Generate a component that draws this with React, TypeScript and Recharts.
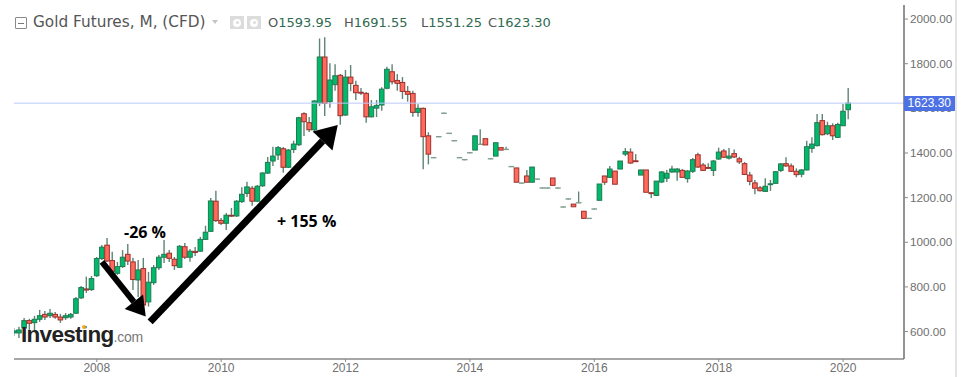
import React from "react";
import { ComposedChart, Bar, XAxis, YAxis, ReferenceLine } from "recharts";

// Months counted from Sep 2006 (index 0)
const opens = [594,594,616,649,640,655,677,671,677,665,662,665,682,751,791,788,850,927,987,918,861,891,946,912,831,882,733,819,886,933,951,924,888,980,933,959,960,1013,1049,1184,1098,1085,1121,1118,1182,1219,1242,1184,1253,1310,1364,1391,1419,1336,1416,1437,1576,1536,1504,1624,1830,1630,1706,1748,1570,1740,1703,1672,1667,1562,1601,1615,1690,1764,1725,1716,1676,1667,1582,1600,1477,1379,1473,1578,1488,1455,1379,1370,1401,1413,1439,1464,1374,1386,1424,1416,1339,1333,1265,1297,1269,1283,1243,1243,1288,1243,1158,1194,1171,1177,1139,1107,1149,1188,1297,1291,1319,1328,1395,1404,1365,1301,1324,1222,1210,1270,1287,1315,1315,1322,1285,1318,1392,1346,1335,1322,1373,1409,1377,1397,1374,1352,1301,1266,1244,1228,1258,1264,1322,1352,1342,1318,1305,1324,1421,1433,1545,1486,1522,1470,1522,1593.95];
const highs = [616,621,661,657,670,697,692,701,688,679,683,683,755,804,846,849,934,988,1019,957,912,965,992,931,921,930,867,898,943,1010,965,934,988,997,970,979,1024,1074,1198,1231,1109,1131,1154,1189,1246,1271,1252,1257,1315,1382,1428,1431,1427,1418,1455,1562,1583,1561,1637,1913,1918,1802,1798,1754,1772,1794,1724,1691,1673,1637,1637,1695,1786,1798,1754,1740,1700,1679,1618,1604,1493,1381,1475,1580,1490,1457,1381,1372,1403,1477,1506,1464,1376,1446,1424,1428,1341,1333,1267,1324,1337,1285,1245,1245,1288,1245,1160,1196,1171,1227,1139,1109,1151,1261,1297,1342,1319,1364,1422,1421,1395,1324,1324,1223,1274,1319,1324,1343,1333,1328,1324,1377,1401,1355,1354,1369,1424,1418,1422,1416,1383,1360,1316,1279,1252,1287,1279,1319,1355,1381,1353,1331,1328,1455,1470,1575,1575,1540,1533,1536,1619,1691.55];
const lows = [580,571,585,607,607,643,652,661,657,639,652,657,679,746,773,782,845,921,912,867,854,885,898,786,755,715,712,809,876,907,912,876,885,925,913,939,957,1010,1046,1091,1077,1055,1113,1113,1176,1203,1164,1180,1248,1306,1342,1369,1312,1333,1400,1431,1476,1494,1489,1610,1566,1603,1679,1527,1566,1677,1637,1660,1536,1559,1561,1589,1686,1707,1679,1642,1630,1562,1562,1327,1349,1377,1471,1576,1486,1453,1377,1368,1399,1413,1437,1436,1372,1386,1413,1414,1337,1269,1263,1269,1269,1281,1241,1241,1255,1241,1156,1192,1159,1175,1107,1105,1147,1188,1257,1288,1260,1328,1386,1351,1361,1301,1224,1198,1207,1265,1270,1310,1276,1288,1267,1310,1333,1319,1328,1297,1369,1377,1371,1377,1351,1301,1255,1215,1227,1225,1230,1261,1315,1337,1315,1291,1291,1322,1401,1429,1478,1480,1458,1467,1521,1551.25];
const closes = [603,607,649,637,655,671,665,682,665,652,671,677,747,797,786,837,927,978,916,870,891,933,916,833,876,719,821,886,933,946,928,895,982,933,960,954,1013,1045,1185,1097,1085,1121,1117,1184,1215,1248,1184,1251,1310,1358,1386,1424,1336,1413,1440,1558,1540,1504,1633,1830,1622,1727,1746,1567,1740,1712,1670,1668,1562,1607,1613,1686,1775,1719,1712,1676,1663,1582,1600,1473,1395,1379,1473,1578,1488,1455,1379,1370,1401,1477,1439,1436,1374,1446,1413,1416,1339,1269,1265,1269,1337,1283,1243,1243,1255,1243,1158,1194,1159,1177,1107,1107,1149,1261,1269,1328,1260,1364,1406,1355,1361,1324,1224,1218,1274,1315,1309,1328,1328,1291,1319,1370,1337,1322,1331,1364,1404,1381,1386,1382,1360,1304,1273,1242,1231,1251,1262,1316,1351,1342,1318,1303,1324,1428,1440,1536,1482,1522,1477,1528,1587,1623.30];

const yTicks = [600, 800, 1000, 1200, 1400, 1600, 1800, 2000];
const xTicks = [16, 40, 64, 88, 112, 136, 160];
const xTickLabels = ["2008", "2010", "2012", "2014", "2016", "2018", "2020"];
const lastPrice = 1623.3;
const priceDomain: [number, number] = [477, 2063];
const monthDomain: [number, number] = [0.03, 171.75];

const downArrow = { from: { m: 17, p: 912 }, to: { m: 25.45, p: 667 } };
const upArrow = { from: { m: 26.3, p: 643 }, to: { m: 62.5, p: 1525 } };

const rows = opens.map((o, i) => ({
  m: i,
  open: o,
  high: highs[i],
  low: lows[i],
  close: closes[i],
  range: [lows[i], highs[i]],
}));

function Candle(props: any) {
  const { x, y, width, height, payload } = props;
  const { open, high, low, close } = payload;
  const cx = x + width / 2;
  const unit = high > low ? height / (high - low) : 0;
  const yOpen = y + (high - open) * unit;
  const yClose = y + (high - close) * unit;
  const top = Math.min(yOpen, yClose);
  const bot = Math.max(yOpen, yClose);
  if (open === close) {
    return (
      <g>
        <line x1={cx} x2={cx} y1={y} y2={y + height} stroke="#4f7a64" strokeWidth={1.2} />
        <rect x={cx - 2.8} y={top - 0.7} width={5.6} height={1.4} fill="#7f9e8f" />
      </g>
    );
  }
  const up = close > open;
  const fill = up ? "#00b96b" : "#ff6a5c";
  const border = up ? "#1f7a52" : "#9c302c";
  return (
    <g>
      <line x1={cx} x2={cx} y1={y} y2={y + height} stroke="#5f8474" strokeWidth={1.4} />
      <rect
        x={cx - 2.3}
        y={top}
        width={4.6}
        height={Math.max(bot - top, 0.6)}
        fill={fill}
        stroke={border}
        strokeWidth={1}
      />
    </g>
  );
}

function Arrow(props: any) {
  const { x1, y1, x2, y2, thick, head } = props;
  const dx = x2 - x1;
  const dy = y2 - y1;
  const len = Math.hypot(dx, dy) || 1;
  const ux = dx / len;
  const uy = dy / len;
  const bx = x2 - ux * head;
  const by = y2 - uy * head;
  const hw = head * 0.62;
  return (
    <g>
      <line x1={x1} y1={y1} x2={bx} y2={by} stroke="#000" strokeWidth={thick} />
      <polygon
        points={`${x2},${y2} ${bx - uy * hw},${by + ux * hw} ${bx + uy * hw},${by - ux * hw}`}
        fill="#000"
      />
    </g>
  );
}

const abs = (left: number, top: number, extra: React.CSSProperties = {}): React.CSSProperties => ({
  position: "absolute",
  left,
  top,
  whiteSpace: "nowrap",
  ...extra,
});

const hdr = { fontFamily: "DejaVu Sans", fontSize: 13, lineHeight: "16px" };

function IconBox({ left }: { left: number }) {
  return (
    <div style={abs(left, 16, { width: 14, height: 13, background: "#dcdcdc" })}>
      <div style={{ position: "absolute", left: 3, top: 2.5, width: 8, height: 8, borderRadius: 4, background: "#fff" }} />
      <div style={{ position: "absolute", left: 5.5, top: 5, width: 3, height: 3, borderRadius: 2, background: "#dcdcdc" }} />
    </div>
  );
}

export default function App() {
  return (
    <div style={{ position: "absolute", left: 0, top: 0, width: 967, height: 377, background: "#fff", overflow: "hidden" }}>
      <ComposedChart
        width={967}
        height={377}
        data={rows}
        margin={{ top: 5, right: 10, bottom: 0, left: 14 }}
      >
        <XAxis
          dataKey="m"
          type="number"
          domain={monthDomain}
          allowDataOverflow
          ticks={xTicks}
          interval={0}
          height={18}
          tickSize={3}
          tickMargin={1}
          tickFormatter={(v: number) => xTickLabels[xTicks.indexOf(v)]}
          tick={{ fill: "#6f6f6f", fontSize: 12, fontFamily: "Liberation Sans" }}
          axisLine={{ stroke: "#8a8a8a", strokeWidth: 1.5 }}
          tickLine={{ stroke: "#8a8a8a" }}
        />
        <YAxis
          orientation="right"
          type="number"
          domain={priceDomain}
          allowDataOverflow
          ticks={yTicks}
          interval={0}
          width={53}
          tickSize={4}
          tickMargin={2}
          tickFormatter={(v: number) => v.toFixed(2)}
          tick={{ fill: "#6f6f6f", fontSize: 11.7, fontFamily: "Liberation Sans" }}
          axisLine={{ stroke: "#6f6f6f", strokeWidth: 1.5 }}
          tickLine={{ stroke: "#8a8a8a" }}
        />
        <Bar dataKey="range" barSize={5} shape={<Candle />} isAnimationActive={false} />
        <ReferenceLine y={lastPrice} stroke="#b9cbfb" strokeWidth={1} />
        <ReferenceLine
          segment={[{ x: downArrow.from.m, y: downArrow.from.p }, { x: downArrow.to.m, y: downArrow.to.p }]}
          shape={(p: any) => <Arrow {...p} thick={6} head={19} />}
        />
        <ReferenceLine
          segment={[{ x: upArrow.from.m, y: upArrow.from.p }, { x: upArrow.to.m, y: upArrow.to.p }]}
          shape={(p: any) => <Arrow {...p} thick={7} head={22} />}
        />
      </ComposedChart>

      <div style={abs(955, 0, { width: 2, height: 377, background: "#e4e4e4" })} />

      {/* last price tag */}
      <div
        style={abs(904, 96, {
          width: 51,
          height: 15,
          background: "#4c71e4",
          color: "#fff",
          fontFamily: "Liberation Sans",
          fontSize: 12,
          lineHeight: "15px",
          textAlign: "right",
          paddingRight: 4,
          boxSizing: "border-box",
        })}
      >
        {lastPrice.toFixed(2)}
      </div>

      {/* header */}
      <div style={abs(15, 17, { width: 10, height: 10, border: "1px solid #8a8a8a", borderRadius: 1 })}>
        <div style={{ position: "absolute", left: 2, top: 4.5, width: 6, height: 1, background: "#777" }} />
      </div>
      <div style={abs(33, 13, { fontFamily: "DejaVu Sans", fontSize: 15.3, lineHeight: "18px", color: "#555" })}>
        Gold Futures, M, (CFD)
      </div>
      <div style={abs(212, 20, { width: 0, height: 0, borderLeft: "3.5px solid transparent", borderRight: "3.5px solid transparent", borderTop: "4px solid #c4c4c4" })} />
      <IconBox left={230} />
      <IconBox left={247} />
      <div style={abs(268, 15, { ...hdr, color: "#555" })}>O<span style={{ color: "#2f6b50" }}>1593.95</span></div>
      <div style={abs(344, 15, { ...hdr, color: "#555" })}>H<span style={{ color: "#2f6b50" }}>1691.55</span></div>
      <div style={abs(421, 15, { ...hdr, color: "#555" })}>L<span style={{ color: "#2f6b50" }}>1551.25</span></div>
      <div style={abs(488, 15, { ...hdr, color: "#555" })}>C<span style={{ color: "#2f6b50" }}>1623.30</span></div>

      {/* annotations */}
      <div style={abs(124, 222, { fontFamily: "Open Sans", fontWeight: 700, fontSize: 16, lineHeight: "20px", color: "#000" })}>-26 %</div>
      <div style={abs(277, 211, { fontFamily: "Open Sans", fontWeight: 700, fontSize: 16, lineHeight: "20px", color: "#000" })}>+ 155 %</div>

      {/* logo */}
      <div style={abs(21, 320, { fontFamily: "Liberation Sans", fontWeight: 700, fontSize: 22.5, lineHeight: "30px", letterSpacing: -0.7, color: "#222" })}>
        Investing<span style={{ fontWeight: 400, fontSize: 14, letterSpacing: -0.2, color: "#777" }}>.com</span>
      </div>
      <div style={abs(82, 325, { width: 4, height: 4, borderRadius: 2, background: "#f5a623" })} />
    </div>
  );
}
